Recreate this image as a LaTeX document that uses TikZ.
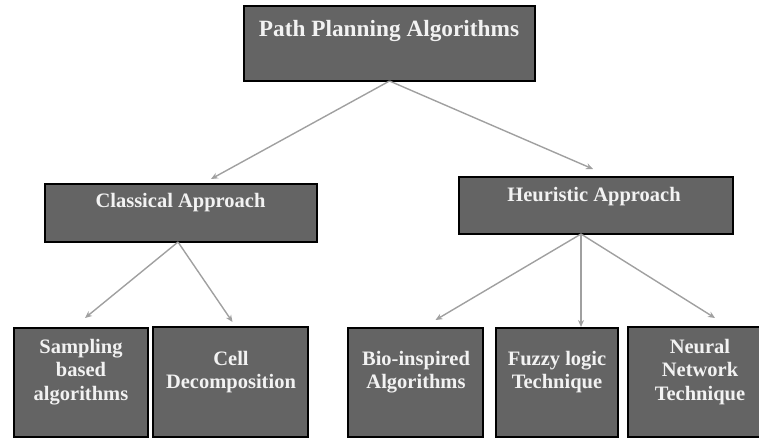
\documentclass[tikz,border=0pt]{standalone}
\usepackage{fontspec}
\setmainfont{Liberation Serif}
\usetikzlibrary{arrows.meta}
\definecolor{boxfill}{RGB}{100,100,100}
\definecolor{linkgray}{RGB}{160,160,160}
\definecolor{labelwhite}{RGB}{242,242,242}
\begin{document}
\begin{tikzpicture}[x=1pt,y=-1pt,
  box/.style={draw=black,line width=2.6pt,fill=boxfill,rectangle,inner sep=0pt,outer sep=0pt},
  lbl/.style={text=labelwhite,font=\bfseries\fontsize{20.5}{23.5}\selectfont,align=center,inner sep=0pt},
  link/.style={draw=linkgray,line width=1.4pt,-{Stealth[length=7pt,width=6pt]}}]
\useasboundingbox (0,0) rectangle (759,440);

% boxes
\node[box,minimum width=291pt,minimum height=75pt] (root) at (389.5,43.5) {};
\node[box,minimum width=272pt,minimum height=58pt] (cls) at (181,213) {};
\node[box,minimum width=274pt,minimum height=57pt] (heu) at (596,205.5) {};
\node[box,minimum width=134pt,minimum height=109pt] (samp) at (81,382.5) {};
\node[box,minimum width=155pt,minimum height=110pt] (cell) at (230.5,382) {};
\node[box,minimum width=135pt,minimum height=109pt] (bio) at (415.5,382.5) {};
\node[box,minimum width=122pt,minimum height=109pt] (fuzzy) at (557,382.5) {};
\node[box,minimum width=144pt,minimum height=110pt] (neural) at (700,382) {};

% labels
\node[lbl,anchor=base,font=\bfseries\fontsize{23.3}{25}\selectfont] (rootT) at (389,36) {Path Planning Algorithms};
\node[lbl,anchor=base] (clsT) at (180.5,207) {Classical Approach};
\node[lbl,anchor=base] (heuT) at (594,201) {Heuristic Approach};
\node[lbl] (sampT) at (81,372) {Sampling\\based\\algorithms};
\node[lbl] (cellT) at (231,372) {Cell\\Decomposition};
\node[lbl] (bioT) at (416,372) {Bio-inspired\\Algorithms};
\node[lbl] (fuzzyT) at (557,372) {Fuzzy logic\\Technique};
\node[lbl] (neuralT) at (700,372) {Neural\\Network\\Technique};

% connectors
\draw[link] (root.south) -- ([xshift=30pt,yshift=5pt]cls.north);
\draw[link] (root.south) -- ([xshift=-3pt,yshift=8pt]heu.north);
\draw[link] ([xshift=-3pt]cls.south) -- ([xshift=4pt,yshift=10pt]samp.north);
\draw[link] ([xshift=-3pt]cls.south) -- ([xshift=2pt,yshift=5pt]cell.north);
\draw[link] ([xshift=-15pt]heu.south) -- ([xshift=20pt,yshift=8pt]bio.north);
\draw[link] ([xshift=-15pt]heu.south) -- ([xshift=24pt,yshift=1pt]fuzzy.north);
\draw[link] ([xshift=-15pt]heu.south) -- ([xshift=15pt,yshift=9pt]neural.north);
\end{tikzpicture}
\end{document}
